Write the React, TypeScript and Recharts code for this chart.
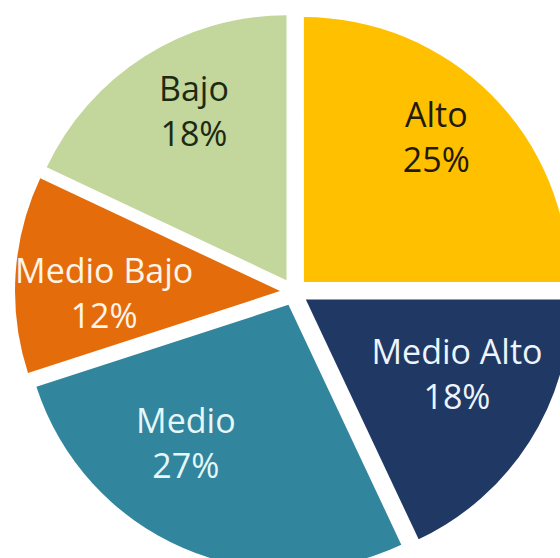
import { PieChart, Pie, Cell, Sector } from 'recharts';

const names = ['Alto', 'Medio Alto', 'Medio', 'Medio Bajo', 'Bajo'];
const shares = [25, 18, 27, 12, 18];
const colors = ['#FFC000', '#1F3864', '#31859C', '#E46C0A', '#C3D69B'];
const textColors = ['#231a05', '#eef4fb', '#e6f7fa', '#fff4e8', '#1c2a12'];

const data = names.map((name, i) => ({ name, value: shares[i] }));

const RAD = Math.PI / 180;
const EXPLODE = 14;
// small hand nudges so the labels sit where the original put them
const labelNudge = [
  [5, -17],
  [-1, -22],
  [-31, -27],
  [4, 14],
  [4, -17],
];

// push every slice out along its own mid angle
const ExplodedSlice = (props: any) => {
  const { cx, cy, midAngle } = props;
  const dx = EXPLODE * Math.cos(-midAngle * RAD);
  const dy = EXPLODE * Math.sin(-midAngle * RAD);
  return <Sector {...props} cx={cx + dx} cy={cy + dy} />;
};

const renderLabel = (props: any) => {
  const { cx, cy, midAngle, outerRadius, index } = props;
  const ox = cx + EXPLODE * Math.cos(-midAngle * RAD);
  const oy = cy + EXPLODE * Math.sin(-midAngle * RAD);
  const r = outerRadius * 0.68;
  const x = ox + r * Math.cos(-midAngle * RAD) + labelNudge[index][0];
  const y = oy + r * Math.sin(-midAngle * RAD) + labelNudge[index][1];
  return (
    <text
      x={x}
      y={y}
      textAnchor="middle"
      fill={textColors[index]}
      fontFamily="'Open Sans', 'Noto Sans', sans-serif"
      fontSize={34}
    >
      <tspan x={x} y={y - 10.5}>{names[index]}</tspan>
      <tspan x={x} y={y + 34.5}>{shares[index]}%</tspan>
    </text>
  );
};

export default function App() {
  return (
    <div style={{ position: 'absolute', left: 0, top: 0, width: 560, height: 558, background: '#fff' }}>
      <PieChart width={560} height={558}>
        <Pie
          data={data}
          dataKey="value"
          nameKey="name"
          cx={289}
          cy={287}
          outerRadius={265}
          startAngle={90}
          endAngle={-270}
          stroke="none"
          shape={ExplodedSlice}
          label={renderLabel}
          labelLine={false}
          isAnimationActive={false}
        >
          {data.map((entry, index) => (
            <Cell key={`cell-${index}`} fill={colors[index]} />
          ))}
        </Pie>
      </PieChart>
    </div>
  );
}
